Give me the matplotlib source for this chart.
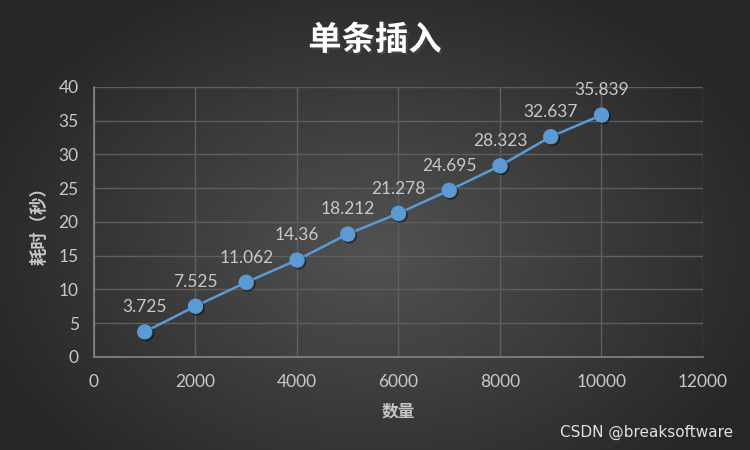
import numpy as np
import matplotlib.pyplot as plt
import matplotlib.patheffects as pe

plt.rcParams['font.family'] = ['Noto Sans CJK SC', 'DejaVu Sans']

# 数据
counts = [1000, 2000, 3000, 4000, 5000, 6000, 7000, 8000, 9000, 10000]
seconds = [3.725, 7.525, 11.062, 14.36, 18.212, 21.278, 24.695, 28.323, 32.637, 35.839]
labels = ['3.725', '7.525', '11.062', '14.36', '18.212', '21.278', '24.695', '28.323', '32.637', '35.839']

txt_color = '#c8c8c8'
num_font = ['Lato', 'DejaVu Sans']

fig = plt.figure(figsize=(7.5, 4.5), dpi=100)

# 径向渐变背景
bg = fig.add_axes([0, 0, 1, 1])
yy, xx = np.mgrid[0:450, 0:750]
d = np.sqrt(((xx - 375) / 420.0) ** 2 + ((yy - 250) / 300.0) ** 2)
d = np.clip(d, 0, 1)
grad = 0.32 - 0.17 * d
bg.imshow(np.dstack([grad, grad, grad]), aspect='auto', extent=[0, 1, 0, 1])
bg.axis('off')

ax = fig.add_axes([0.1253, 0.2067, 0.812, 0.6])
ax.patch.set_alpha(0)

ax.plot(counts, seconds, color='#5b9bd5', lw=1.8, zorder=3)
ax.plot(counts, seconds, ls='none', marker='o', markersize=10,
        markerfacecolor='#5b9bd5', markeredgecolor='#5b9bd5', zorder=4,
        path_effects=[pe.SimpleLineShadow(offset=(1.2, -1.2), alpha=0.5), pe.Normal()])

for x, y, s in zip(counts, seconds, labels):
    ax.annotate(s, (x, y), xytext=(0, 12), textcoords='offset points',
                ha='center', va='bottom', color=txt_color, fontsize=12.5,
                family=num_font)

ax.set_xlim(0, 12000)
ax.set_ylim(0, 40)
ax.set_xticks(range(0, 12001, 2000))
ax.set_yticks(range(0, 41, 5))
ax.grid(True, color='#5e5e5e', lw=1)
ax.set_axisbelow(True)
for sp in ['top', 'right']:
    ax.spines[sp].set_visible(False)
for sp in ['left', 'bottom']:
    ax.spines[sp].set_color('#858585')
    ax.spines[sp].set_linewidth(1.2)
ax.tick_params(length=0, colors=txt_color, labelsize=12.5)
ax.tick_params(axis='x', pad=12)
ax.tick_params(axis='y', pad=11)
for lab in ax.get_xticklabels() + ax.get_yticklabels():
    lab.set_family(num_font)

ax.set_xlabel('数量', color=txt_color, fontsize=12, fontweight='bold', labelpad=9)
ax.set_ylabel('耗时（秒）', color=txt_color, fontsize=12.5, fontweight='bold', labelpad=7)

fig.text(0.5, 0.91, '单条插入', ha='center', va='center', color='white',
         fontsize=24, fontweight='bold',
         path_effects=[pe.withSimplePatchShadow(offset=(1.5, -1.5), alpha=0.6)])

fig.text(0.978, 0.04, 'CSDN @breaksoftware', ha='right', va='center',
         color='#e0e0e0', fontsize=11, family='DejaVu Sans')

fig.savefig('out.png', dpi=100)
